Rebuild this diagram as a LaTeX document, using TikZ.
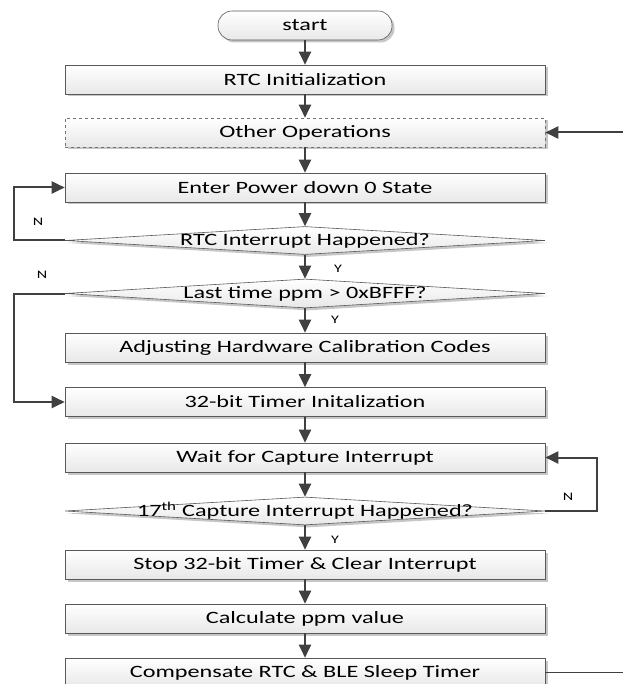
\documentclass[tikz,border=0pt]{standalone}
\usepackage{fontspec}
\setmainfont{Carlito}[FakeStretch=1.4]
\usetikzlibrary{arrows.meta,shapes.geometric,shadows}
\begin{document}
\begin{tikzpicture}[x=1pt,y=-1pt,
  shad/.style={drop shadow={shadow xshift=2.5pt,shadow yshift=-2.5pt,fill=black!22,opacity=1}},
  box/.style={rectangle,draw=black!65,line width=0.6pt,minimum width=480pt,minimum height=29pt,inner sep=0pt,
    top color=white,bottom color=black!9,shad,font=\fontsize{17.3}{20}\selectfont},
  dbox/.style={box,dashed,draw=black!55},
  startbox/.style={box,rounded corners=14pt,minimum width=174pt},
  dia/.style={diamond,draw=black!65,line width=0.6pt,minimum width=480pt,minimum height=28pt,inner sep=0pt,
    top color=white,bottom color=black!9,shad},
  dtext/.style={font=\fontsize{17.3}{20}\selectfont,inner sep=0pt},
  yn/.style={font=\fontsize{11.5}{13}\selectfont,inner sep=0pt},
  arr/.style={draw=black!75,line width=2pt,-{Triangle[length=13pt,width=12pt]}},
  thin/.style={draw=black!75,line width=1pt}]
\useasboundingbox (0,0) rectangle (623,684);

\node[startbox] (start) at (305,25.5) {start};
\node[box] (rtc) at (305,79.5) {RTC Initialization};
\node[dbox] (other) at (305,132.5) {Other Operations};
\node[box] (enter) at (305,187.5) {Enter Power down 0 State};
\node[dia] (d1) at (305,240.5) {};
\node[dtext] (d1t) at (d1.center) {RTC Interrupt Happened?};
\node[dia,minimum height=29pt] (d2) at (305,293.5) {};
\node[dtext] (d2t) at (d2.center) {Last time ppm > 0xBFFF?};
\node[box] (adj) at (305,347.5) {Adjusting Hardware Calibration Codes};
\node[box] (timer) at (305,402) {32-bit Timer Initalization};
\node[box] (wait) at (305,457.5) {Wait for Capture Interrupt};
\node[dia] (d3) at (305,511) {};
\node[dtext] (d3t) at (d3.center) {17\textsuperscript{th} Capture Interrupt Happened?};
\node[box] (stop) at (305,564.5) {Stop 32-bit Timer \& Clear Interrupt};
\node[box] (calc) at (305,618.5) {Calculate ppm value};
\node[box] (comp) at (305,672.5) {Compensate RTC \& BLE Sleep Timer};

\node[yn] (n1) at (38,222) {N};
\node[yn] (y1) at (338,269) {Y};
\node[yn] (n2) at (42,275) {N};
\node[yn] (y2) at (335,320) {Y};
\node[yn] (n3) at (568,497) {N};
\node[yn] (y3) at (335,540) {Y};

\coordinate (lx) at (14,0);
\coordinate (rx) at (597,0);
\coordinate (oin) at (623,132.5);
\coordinate (cout) at (623,672);

\draw[arr] (start) -- (rtc);
\draw[arr] (rtc) -- (other);
\draw[arr] (other) -- (enter);
\draw[arr] (enter) -- (d1.north);
\draw[arr] (d1.south) -- (d2.north);
\draw[arr] (d2.south) -- (adj);
\draw[arr] (adj) -- (timer);
\draw[arr] (timer) -- (wait);
\draw[arr] (wait) -- (d3.north);
\draw[arr] (d3.south) -- (stop);
\draw[arr] (stop) -- (calc);
\draw[arr] (calc) -- (comp);

\draw[arr] (oin) -- (other.east);
\draw[arr] (d1.west) -- (d1.west -| lx) |- (enter.west);
\draw[arr] (d2.west) -- (d2.west -| lx) |- (timer.west);
\draw[arr] (d3.east) -- (d3.east -| rx) |- (wait.east);
\draw[thin] (comp.east |- cout) -- (cout);
\end{tikzpicture}
\end{document}
